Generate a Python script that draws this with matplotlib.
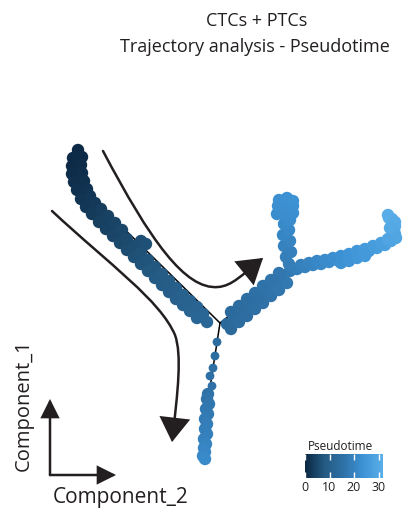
"""
Monocle-style trajectory plot: CTCs + PTCs, cells coloured by pseudotime.
"""

import matplotlib.pyplot as plt
import matplotlib.colors as mcolors
from matplotlib.path import Path
from matplotlib.patches import FancyArrowPatch

plt.rcParams["font.family"] = ["Open Sans", "DejaVu Sans"]

TEXT = "#231f20"

# ---------------------------------------------------------------------------
# cells (plot coordinates, y grows downward) and their pseudotime
# branch A: root branch, top-left down to the first junction
branch_a_x = [78, 77, 76, 76, 78, 81, 85, 90, 96, 103, 110, 117, 124, 131, 138, 145,
              152, 159, 166, 173, 180, 187, 194, 201, 207,
              73, 72, 72, 74, 77, 81, 86, 92, 99, 106, 113, 120, 127, 134, 141, 148,
              155, 162, 169, 176, 183, 190, 197,
              82, 81, 82, 84, 87, 90, 95, 101, 108, 115, 122, 127, 134, 141, 148, 155,
              162, 169, 176, 183, 190, 197, 203,
              141, 146]
branch_a_y = [150, 158, 166, 174, 182, 190, 198, 205, 212, 219, 226, 233, 240, 247, 254,
              261, 268, 275, 282, 289, 296, 302, 308, 315, 322,
              158, 166, 174, 182, 190, 199, 207, 214, 222, 229, 236, 243, 250, 257, 264,
              271, 278, 285, 292, 299, 305, 311, 318,
              157, 165, 173, 181, 189, 196, 203, 209, 216, 223, 230, 239, 246, 253, 260,
              267, 274, 281, 288, 295, 301, 307, 314,
              241, 244]
branch_a_t = [0.4, 0.6, 0.8, 1.1, 1.4, 1.8, 2.3, 2.8, 3.3, 3.9, 4.4, 4.9, 5.4, 5.9, 6.5,
              7.1, 7.7, 8.3, 8.9, 9.5, 10.1, 10.7, 11.3, 11.9, 12.4,
              0.5, 0.7, 1.0, 1.3, 1.7, 2.2, 2.7, 3.2, 3.8, 4.3, 4.8, 5.3, 5.8, 6.4, 7.0,
              7.6, 8.2, 8.8, 9.4, 10.0, 10.6, 11.2, 11.8,
              0.7, 0.9, 1.2, 1.5, 1.9, 2.4, 2.9, 3.4, 4.0, 4.5, 5.0, 5.5, 6.0, 6.6, 7.2,
              7.8, 8.4, 9.0, 9.6, 10.2, 10.8, 11.4, 12.0,
              6.2, 6.5]

# branch B trunk: junction up to the second split
trunk_x = [227, 235, 243, 251, 259, 267, 275, 283, 290,
           231, 239, 247, 255, 263, 271, 279, 287,
           231, 239, 247, 255, 263, 271, 279]
trunk_y = [324, 317, 311, 304, 298, 291, 285, 278, 271,
           329, 322, 316, 309, 303, 296, 290, 283,
           312, 306, 299, 293, 286, 280, 273]
trunk_t = [13.0, 13.6, 14.2, 14.8, 15.4, 16.0, 16.6, 17.2, 17.8,
           13.2, 13.8, 14.4, 15.0, 15.6, 16.2, 16.8, 17.4,
           13.4, 14.0, 14.6, 15.2, 15.8, 16.4, 17.0]

# upper arm
upper_x = [289, 286, 291, 284, 290, 283, 289, 284, 290,
           277, 285, 293, 278, 286, 293, 279, 287, 293]
upper_y = [264, 257, 252, 246, 241, 235, 230, 224, 220,
           214, 214, 213, 206, 205, 206, 200, 198, 201]
upper_t = [18.4, 18.9, 19.3, 19.8, 20.2, 20.7, 21.1, 21.6, 22.0,
           22.3, 22.4, 22.5, 22.8, 22.9, 23.0, 23.2, 23.4, 23.5]

# right arm
right_x = [297, 305, 313, 321, 329, 337, 345, 353, 361, 369, 377, 385, 391, 395, 395,
           392, 388,
           301, 309, 317, 325, 333, 341, 349, 357, 365, 373, 381, 388,
           341, 349, 357, 365,
           389, 395, 394, 396, 388, 390]
right_y = [269, 267, 265, 264, 262, 260, 258, 256, 253, 251, 248, 245, 241, 234, 226,
           219, 215,
           265, 263, 261, 260, 258, 256, 254, 251, 249, 246, 243, 239,
           263, 261, 258, 256,
           218, 222, 230, 238, 240, 228]
right_t = [19.0, 19.8, 20.6, 21.4, 22.2, 23.0, 23.8, 24.6, 25.4, 26.2, 27.0, 27.8, 28.6,
           29.4, 30.2, 30.9, 31.4,
           19.4, 20.2, 21.0, 21.8, 22.6, 23.4, 24.2, 25.0, 25.8, 26.6, 27.4, 28.2,
           23.3, 24.1, 24.9, 25.7,
           31.2, 30.6, 29.9, 29.2, 28.9, 30.0]

# lower branch: sparse cells below the junction, then a dense column
sparse_x = [217, 215, 213, 210, 212]
sparse_y = [342, 356, 368, 376, 386]
sparse_t = [14.0, 14.5, 15.0, 15.3, 15.7]
lower_x = [208, 207, 209, 206, 208, 205, 207, 205, 207, 204, 206, 204, 205, 203, 205]
lower_y = [394, 399, 404, 409, 414, 419, 424, 429, 434, 439, 444, 448, 452, 456, 459]
lower_t = [16.0, 16.4, 16.8, 17.2, 17.6, 18.0, 18.4, 18.8, 19.2, 19.6, 20.0, 20.4, 20.8,
           21.2, 21.6]

# minimum spanning tree backbone
tree_x = [110, 220, 290, None, 220, 223, None, 220, 205]
tree_y = [215, 323, 268, None, 323, 322, None, 323, 420]

CB_TICKS = [0, 10, 20, 30]
T_MAX = 31.8

cmap = mcolors.LinearSegmentedColormap.from_list(
    "pseudotime", ["#0b2742", "#245a82", "#2f72a8", "#3d93d6", "#5aaee8"])
norm = mcolors.Normalize(0, T_MAX)

# ---------------------------------------------------------------------------
fig = plt.figure(figsize=(4.14, 5.17), dpi=100)
ax = fig.add_axes([0, 0, 1, 1])
ax.set_xlim(0, 414)
ax.set_ylim(517, 0)
ax.axis("off")

ax.plot([v if v is not None else float("nan") for v in tree_x],
        [v if v is not None else float("nan") for v in tree_y],
        color="black", lw=1.1, zorder=1)

all_x = branch_a_x + trunk_x + upper_x + right_x + lower_x
all_y = branch_a_y + trunk_y + upper_y + right_y + lower_y
all_t = branch_a_t + trunk_t + upper_t + right_t + lower_t
ax.scatter(all_x, all_y, c=all_t, cmap=cmap, norm=norm, s=80,
           linewidths=0, zorder=2)
ax.scatter(sparse_x, sparse_y, c=sparse_t, cmap=cmap, norm=norm, s=40,
           linewidths=0, zorder=2)

# direction arrows
def curved_arrow(verts, codes):
    p = FancyArrowPatch(path=Path(verts, codes),
                        arrowstyle="-|>,head_length=15,head_width=9.5",
                        color="#231f20", lw=1.8, shrinkA=0, shrinkB=0,
                        mutation_scale=1, joinstyle="miter", zorder=3)
    ax.add_patch(p)

C4 = Path.CURVE4
curved_arrow([(103, 151), (150, 240), (185, 290), (218, 287),
              (232, 286), (242, 275), (263, 258)],
             [Path.MOVETO, C4, C4, C4, C4, C4, C4])
curved_arrow([(52, 211), (110, 265), (160, 300), (175, 335),
              (182, 355), (178, 390), (172, 442)],
             [Path.MOVETO, C4, C4, C4, C4, C4, C4])

# component axes
for end in [(50, 399), (116, 475)]:
    ax.annotate("", xy=end, xytext=(50, 475),
                arrowprops=dict(arrowstyle="-|>,head_length=1.1,head_width=0.55",
                                color="#231f20", lw=1.8, mutation_scale=10,
                                shrinkA=0, shrinkB=0, joinstyle="miter"))
ax.text(121, 497, "Component_2", fontsize=15, color=TEXT, ha="center", va="center")
ax.text(24, 405, "Component_1", fontsize=14.5, color=TEXT, ha="center", va="center",
        rotation=90)

# titles
ax.text(257, 21, "CTCs + PTCs", fontsize=13, color=TEXT, ha="center", va="center")
ax.text(255, 47, "Trajectory analysis - Pseudotime", fontsize=13, color=TEXT,
        ha="center", va="center")

# colour bar
cax = fig.add_axes([305 / 414, 1 - 478 / 517, 78 / 414, 24 / 517])
sm = plt.cm.ScalarMappable(norm=norm, cmap=cmap)
cb = fig.colorbar(sm, cax=cax, orientation="horizontal", ticks=CB_TICKS)
cb.outline.set_visible(False)
cax.tick_params(axis="x", direction="in", length=4, width=1, color="white",
                labelcolor=TEXT, labelsize=9, pad=2, top=True)
ax.text(308, 446, "Pseudotime", fontsize=8.5, color=TEXT, ha="left", va="center")

fig.savefig("out.png", dpi=100, facecolor="white")
